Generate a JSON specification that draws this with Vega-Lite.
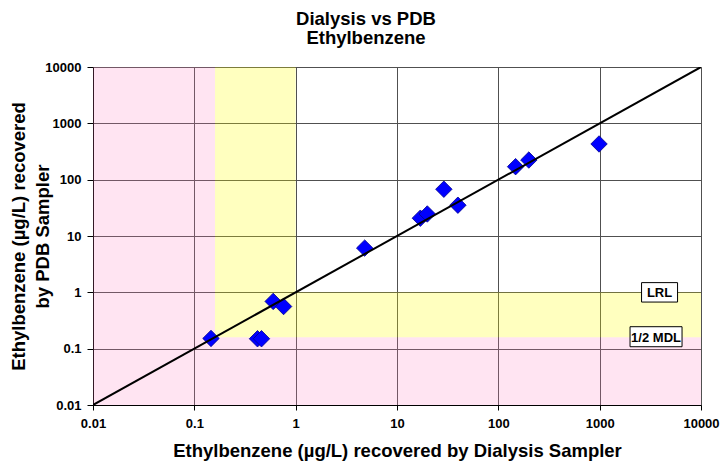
{
  "$schema": "https://vega.github.io/schema/vega-lite/v6.json",
  "autosize": "none",
  "width": 608,
  "height": 338,
  "padding": {"left": 93, "top": 67, "right": 19, "bottom": 59},
  "background": "white",
  "config": {
    "font": "Liberation Sans",
    "view": {"stroke": "#707070", "strokeWidth": 1}
  },
  "title": {
    "text": ["Dialysis vs PDB", "Ethylbenzene"],
    "font": "Liberation Sans",
    "fontSize": 18.5,
    "fontWeight": "bold",
    "color": "black",
    "anchor": "middle",
    "dx": -31,
    "offset": 14,
    "lineHeight": 19
  },
  "datasets": {
    "regions": [
      {"region": "pink", "x1": 0.01, "x2": 0.16, "y1": 0.01, "y2": 10000},
      {"region": "pink", "x1": 0.16, "x2": 10000, "y1": 0.01, "y2": 0.16},
      {"region": "yellow", "x1": 0.16, "x2": 1, "y1": 0.16, "y2": 10000},
      {"region": "yellow", "x1": 1, "x2": 10000, "y1": 0.16, "y2": 1}
    ],
    "points": [
      {"dialysis": 0.146, "pdb": 0.152},
      {"dialysis": 0.42, "pdb": 0.15},
      {"dialysis": 0.46, "pdb": 0.15},
      {"dialysis": 0.6, "pdb": 0.69},
      {"dialysis": 0.76, "pdb": 0.56},
      {"dialysis": 4.8, "pdb": 6.1},
      {"dialysis": 17, "pdb": 20.7},
      {"dialysis": 19.9, "pdb": 24.6},
      {"dialysis": 29, "pdb": 67.6},
      {"dialysis": 39.9, "pdb": 35.2},
      {"dialysis": 148, "pdb": 170},
      {"dialysis": 200, "pdb": 223},
      {"dialysis": 986, "pdb": 430}
    ],
    "line": [
      {"dialysis": 0.01, "pdb": 0.01},
      {"dialysis": 10000, "pdb": 10000}
    ],
    "labels": [
      {"label": "LRL", "dialysis": 3900, "pdb": 1},
      {"label": "1/2 MDL", "dialysis": 3600, "pdb": 0.163}
    ]
  },
  "layer": [
    {
      "data": {"name": "regions"},
      "mark": {"type": "rect"},
      "encoding": {
        "x": {
          "field": "x1", "type": "quantitative",
          "scale": {"type": "log", "domain": [0.01, 10000], "nice": false},
          "axis": {
            "title": "Ethylbenzene (µg/L) recovered by Dialysis Sampler",
            "values": [0.01, 0.1, 1, 10, 100, 1000, 10000],
            "format": "~g",
            "labelFont": "Liberation Sans",
            "labelFontSize": 13,
            "labelFontWeight": "bold",
            "labelColor": "black",
            "labelPadding": 7,
            "labelFlush": false,
            "tickColor": "black",
            "tickSize": 5,
            "domainColor": "black",
            "grid": true,
            "gridColor": "#505050",
            "gridWidth": 1,
            "titleFont": "Liberation Sans",
            "titleFontSize": 18.5,
            "titleFontWeight": "bold",
            "titleColor": "black",
            "titlePadding": 11
          }
        },
        "x2": {"field": "x2"},
        "y": {
          "field": "y1", "type": "quantitative",
          "scale": {"type": "log", "domain": [0.01, 10000], "nice": false},
          "axis": {
            "title": ["Ethylbenzene (µg/L) recovered", "by PDB Sampler"],
            "values": [0.01, 0.1, 1, 10, 100, 1000, 10000],
            "format": "~g",
            "labelFont": "Liberation Sans",
            "labelFontSize": 13,
            "labelFontWeight": "bold",
            "labelColor": "black",
            "labelPadding": 6,
            "labelFlush": false,
            "tickColor": "black",
            "tickSize": 6,
            "domainColor": "black",
            "grid": true,
            "gridColor": "#505050",
            "gridWidth": 1,
            "titleFont": "Liberation Sans",
            "titleFontSize": 18.5,
            "titleFontWeight": "bold",
            "titleColor": "black",
            "titlePadding": -8,
            "titleLineHeight": 24
          }
        },
        "y2": {"field": "y2"},
        "color": {
          "field": "region", "type": "nominal",
          "scale": {"domain": ["pink", "yellow"], "range": ["rgba(255,120,190,0.2)", "rgba(255,255,0,0.25)"]},
          "legend": null
        }
      }
    },
    {
      "data": {"name": "points"},
      "mark": {"type": "point", "shape": "diamond", "filled": true, "fill": "#0000ff", "stroke": "#00008b", "strokeWidth": 0.8, "size": 270, "opacity": 1},
      "encoding": {
        "x": {"field": "dialysis", "type": "quantitative"},
        "y": {"field": "pdb", "type": "quantitative"}
      }
    },
    {
      "data": {"name": "line"},
      "mark": {"type": "line", "color": "black", "strokeWidth": 2, "clip": true},
      "encoding": {
        "x": {"field": "dialysis", "type": "quantitative"},
        "y": {"field": "pdb", "type": "quantitative"}
      }
    },
    {
      "data": {"name": "labels"},
      "transform": [{"filter": "datum.label === 'LRL'"}],
      "mark": {"type": "point", "shape": "M-1,-0.54H1V0.54H-1Z", "filled": true, "fill": "white", "stroke": "black", "strokeWidth": 1, "size": 1296, "opacity": 1},
      "encoding": {
        "x": {"field": "dialysis", "type": "quantitative"},
        "y": {"field": "pdb", "type": "quantitative"}
      }
    },
    {
      "data": {"name": "labels"},
      "transform": [{"filter": "datum.label === '1/2 MDL'"}],
      "mark": {"type": "point", "shape": "M-1,-0.385H1V0.385H-1Z", "filled": true, "fill": "white", "stroke": "black", "strokeWidth": 1, "size": 2704, "opacity": 1},
      "encoding": {
        "x": {"field": "dialysis", "type": "quantitative"},
        "y": {"field": "pdb", "type": "quantitative"}
      }
    },
    {
      "data": {"name": "labels"},
      "mark": {"type": "text", "font": "Liberation Sans", "fontSize": 13, "fontWeight": "bold", "color": "black", "align": "center", "baseline": "middle", "dy": 1},
      "encoding": {
        "x": {"field": "dialysis", "type": "quantitative"},
        "y": {"field": "pdb", "type": "quantitative"},
        "text": {"field": "label"}
      }
    }
  ]
}
